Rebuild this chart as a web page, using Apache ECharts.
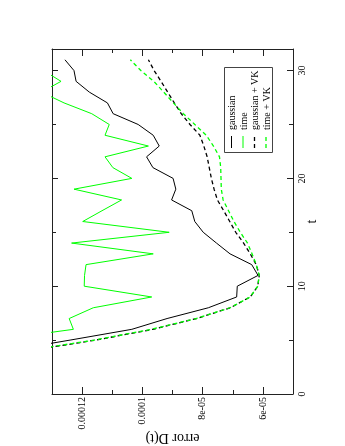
<!DOCTYPE html>
<html>
<head>
<meta charset="utf-8">
<script src="https://cdn.jsdelivr.net/npm/echarts@6/dist/echarts.min.js"></script>
<style>
html,body{margin:0;padding:0;background:#fff}
#chart{width:345px;height:446px}
</style>
</head>
<body>
<div id="chart"></div>
<script>
// t steps of each run
const tGauss = [4,5,6,7,8,9,10,11,12,13,14,15,16,17,18,19,20,21,22,23,24,25,26,27,28,29,30,31];
const tTime  = [5,6,7,8,9,10,11,12,13,14,15,16,17,18,19,20,21,22,23,24,25,26,27,28,29,30];
const tVK    = [4,5,6,7,8,9,10,11,12,13,14,15,16,17,18,19,20,21,22,23,24,25,26,27,28,29,30,31];

// error D(t)
const errGauss = [14.5e-5,12.4e-5,10.35e-5,9.18e-5,7.81e-5,6.87e-5,6.85e-5,6.16e-5,6.37e-5,7.09e-5,7.54e-5,7.98e-5,8.26e-5,8.36e-5,
  9.03e-5,8.89e-5,8.98e-5,9.65e-5,9.86e-5,9.44e-5,9.64e-5,10.14e-5,10.97e-5,11.16e-5,11.76e-5,12.2e-5,12.27e-5,12.57e-5];
const errTime = [14.9e-5,12.29e-5,12.43e-5,11.63e-5,9.69e-5,11.93e-5,11.92e-5,11.87e-5,9.64e-5,12.35e-5,9.11e-5,11.98e-5,11.34e-5,
  10.69e-5,12.27e-5,10.35e-5,10.98e-5,11.24e-5,9.8e-5,11.24e-5,11.1e-5,11.68e-5,12.6e-5,13.35e-5,12.7e-5,13.28e-5];
const errGaussVK = [13.8e-5,11.55e-5,9.65e-5,8.2e-5,7.08e-5,6.42e-5,6.17e-5,6.12e-5,6.22e-5,6.42e-5,6.64e-5,6.9e-5,7.1e-5,7.3e-5,
  7.51e-5,7.62e-5,7.71e-5,7.78e-5,7.85e-5,7.96e-5,8.09e-5,8.42e-5,8.71e-5,8.94e-5,9.16e-5,9.38e-5,9.61e-5,9.8e-5];
const errTimeVK = [13.9e-5,11.6e-5,9.7e-5,8.22e-5,7.09e-5,6.42e-5,6.17e-5,6.12e-5,6.22e-5,6.36e-5,6.51e-5,6.75e-5,6.96e-5,7.14e-5,
  7.32e-5,7.38e-5,7.39e-5,7.4e-5,7.44e-5,7.64e-5,7.88e-5,8.26e-5,8.64e-5,8.97e-5,9.29e-5,9.62e-5,10.05e-5,10.4e-5];

const seriesNames = ['gaussian', 'time', 'gaussian + VK', 'time + VK'];

// axis ticks
const errMajor = [6e-5, 8e-5, 10e-5, 12e-5];
const errMajorLabels = ['6e-05', '8e-05', '0.0001', '0.00012'];
const errMinor = [7e-5, 9e-5, 11e-5];
const tMajor = [0, 10, 20, 30];
const tMinor = [5, 15, 25];

const FONT = 'Liberation Serif';
const GREEN = '#00ff00';

function pairs(ts, errs){
	let out = [];
	for(var i = 0; i < ts.length; i++){
		out.push([errs[i], ts[i]]);
	}
	return out;
}

function errLabel(v){
	for(var i = 0; i < errMajor.length; i++){
		if(Math.abs(v - errMajor[i]) < 1e-9) return errMajorLabels[i];
	}
	return '';
}

function xAx(pos, ticks, len, withLabels){
	return {
		type: 'value', position: pos, min: 5e-5, max: 13e-5, inverse: true,
		axisLine: {show: withLabels !== null, onZero: false, lineStyle: {color: '#222', width: 1}},
		axisTick: {show: true, inside: true, length: len, customValues: ticks, lineStyle: {color: '#222'}},
		axisLabel: withLabels ? {
			show: true, customValues: errMajor, rotate: 90, margin: 3,
			fontFamily: FONT, fontSize: 10, color: '#000', formatter: errLabel
		} : {show: false},
		splitLine: {show: false}
	};
}

function yAx(pos, ticks, len, withLabels){
	return {
		type: 'value', position: pos, min: 0, max: 32,
		axisLine: {show: withLabels !== null, onZero: false, lineStyle: {color: '#222', width: 1}},
		axisTick: {show: true, inside: true, length: len, customValues: ticks, lineStyle: {color: '#222'}},
		axisLabel: withLabels ? {
			show: true, customValues: tMajor, rotate: 90, margin: 4,
			fontFamily: FONT, fontSize: 10, color: '#000'
		} : {show: false},
		splitLine: {show: false}
	};
}

let xMain = xAx('bottom', errMajor, 7, true);
xMain.name = 'error D(t)';
xMain.nameLocation = 'middle';
xMain.nameRotate = 180;
xMain.nameGap = 37;
xMain.nameMoveOverlap = false;
xMain.nameTextStyle = {fontFamily: FONT, fontSize: 14, color: '#000'};

let yMain = yAx('right', tMajor, 6, true);
yMain.name = 't';
yMain.nameLocation = 'middle';
yMain.nameRotate = 90;
yMain.nameGap = 19;
yMain.nameMoveOverlap = false;
yMain.nameTextStyle = {fontFamily: FONT, fontSize: 14, color: '#000', align: 'center', verticalAlign: 'middle'};

// legend drawn by hand, the key is turned like the rest of the figure
let legendCols = [231.5, 243, 254.5, 266];
let legendGraphic = [{
	type: 'rect', shape: {x: 224.5, y: 67.5, width: 48, height: 85},
	style: {fill: '#fff', stroke: '#444', lineWidth: 1}, z: 10
}];
let legendStyles = [
	{stroke: '#000', lineWidth: 1},
	{stroke: GREEN, lineWidth: 1},
	{stroke: '#000', lineWidth: 1.3, lineDash: [4, 3]},
	{stroke: GREEN, lineWidth: 1.3, lineDash: [4, 3]}
];
for(var i = 0; i < seriesNames.length; i++){
	legendGraphic.push({
		type: 'line', shape: {x1: legendCols[i], y1: 148, x2: legendCols[i], y2: 136},
		style: legendStyles[i], z: 11
	});
	legendGraphic.push({
		type: 'text', x: legendCols[i] + 1, y: 130, rotation: Math.PI / 2,
		style: {text: seriesNames[i], fontFamily: FONT, fontSize: 10, fill: '#000', align: 'left', verticalAlign: 'middle'},
		z: 11
	});
}

const chart = echarts.init(document.getElementById('chart'));
chart.setOption({
	animation: false,
	backgroundColor: '#fff',
	grid: {left: 52, right: 52, top: 49, bottom: 52, containLabel: false, outerBoundsMode: 'none'},
	xAxis: [
		xMain,
		xAx('bottom', errMinor, 4, null),
		xAx('top', errMajor, 7, false),
		xAx('top', errMinor, 4, null)
	],
	yAxis: [
		yMain,
		yAx('right', tMinor, 4, null),
		yAx('left', tMajor, 6, false),
		yAx('left', tMinor, 4, null)
	],
	graphic: legendGraphic,
	series: [
		{name: seriesNames[0], type: 'line', showSymbol: false, data: pairs(tGauss, errGauss),
			lineStyle: {color: '#000', width: 1}},
		{name: seriesNames[1], type: 'line', showSymbol: false, data: pairs(tTime, errTime),
			lineStyle: {color: GREEN, width: 1}},
		{name: seriesNames[2], type: 'line', showSymbol: false, data: pairs(tVK, errGaussVK),
			lineStyle: {color: '#000', width: 1.3, type: [4, 3]}},
		{name: seriesNames[3], type: 'line', showSymbol: false, data: pairs(tVK, errTimeVK),
			lineStyle: {color: GREEN, width: 1.3, type: [4, 3], dashOffset: 3}}
	]
});
</script>
</body>
</html>
